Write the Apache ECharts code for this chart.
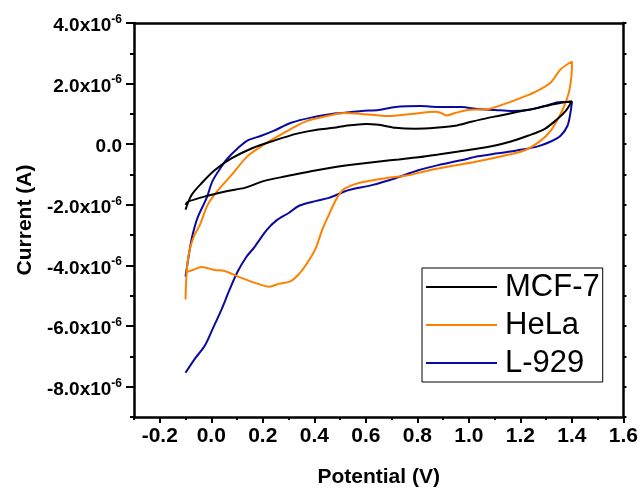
<!DOCTYPE html>
<html>
<head>
<meta charset="utf-8">
<script src="https://cdn.jsdelivr.net/npm/echarts@6/dist/echarts.min.js"></script>
<style>
  html, body { margin: 0; padding: 0; background: #fff; }
  #chart { width: 641px; height: 493px; }
</style>
</head>
<body>
<div id="chart"></div>
<script>
// Cyclic voltammograms: [potential (V), current (µA)] in scan order
const mcf7 = [
  [-0.10, -2.16], [-0.076, -1.67], [-0.037, -1.28], [0.013, -0.86], [0.078, -0.47],
  [0.156, -0.14], [0.244, 0.12], [0.333, 0.35], [0.410, 0.48], [0.476, 0.54],
  [0.522, 0.61], [0.600, 0.67], [0.650, 0.64], [0.715, 0.54], [0.793, 0.51],
  [0.870, 0.54], [0.947, 0.61], [1.009, 0.74], [1.075, 0.87], [1.113, 0.93],
  [1.190, 1.07], [1.268, 1.20], [1.333, 1.33], [1.40, 1.42],
  [1.376, 1.10], [1.345, 0.84], [1.295, 0.51], [1.229, 0.28], [1.163, 0.09],
  [1.102, -0.04], [1.036, -0.14], [0.960, -0.24], [0.881, -0.34], [0.804, -0.43],
  [0.727, -0.50], [0.661, -0.56], [0.561, -0.66], [0.476, -0.76], [0.387, -0.89],
  [0.295, -1.05], [0.206, -1.21], [0.129, -1.44], [0.063, -1.54], [-0.014, -1.70],
  [-0.092, -1.90], [-0.10, -2.00]
];

const hela = [
  [-0.10, -5.12], [-0.095, -4.15], [-0.084, -3.49], [-0.064, -2.97], [-0.045, -2.68],
  [-0.014, -2.00], [0.024, -1.54], [0.078, -1.02], [0.140, -0.40], [0.194, -0.07],
  [0.244, 0.19], [0.310, 0.51], [0.372, 0.77], [0.449, 0.93], [0.515, 1.03],
  [0.584, 1.00], [0.688, 0.93], [0.777, 1.00], [0.870, 1.07], [0.893, 1.03],
  [0.912, 0.95], [0.947, 1.03], [0.997, 1.13], [1.075, 1.16], [1.125, 1.29],
  [1.190, 1.49], [1.256, 1.72], [1.318, 2.04], [1.356, 2.47], [1.40, 2.73],
  [1.40, 2.53], [1.391, 1.81], [1.376, 1.39], [1.356, 1.00], [1.318, 0.45],
  [1.279, 0.12], [1.217, -0.20], [1.140, -0.37], [1.036, -0.56], [0.932, -0.72],
  [0.831, -0.89], [0.766, -1.02], [0.677, -1.12], [0.573, -1.28], [0.522, -1.44],
  [0.507, -1.54], [0.484, -1.83], [0.457, -2.32], [0.430, -2.84], [0.407, -3.40],
  [0.380, -3.82], [0.353, -4.15], [0.322, -4.44], [0.302, -4.54], [0.264, -4.60],
  [0.225, -4.70], [0.179, -4.60], [0.117, -4.41], [0.051, -4.18], [0.013, -4.15],
  [-0.037, -4.05], [-0.072, -4.15], [-0.092, -4.21]
];

const l929 = [
  [-0.10, -4.37], [-0.084, -3.49], [-0.072, -2.97], [-0.053, -2.42], [-0.018, -1.77],
  [0.005, -1.21], [0.040, -0.73], [0.063, -0.47], [0.102, -0.14], [0.140, 0.12],
  [0.194, 0.28], [0.244, 0.45], [0.310, 0.71], [0.399, 0.90], [0.468, 1.00],
  [0.507, 1.03], [0.584, 1.10], [0.650, 1.13], [0.715, 1.23], [0.812, 1.26],
  [0.881, 1.23], [0.970, 1.23], [1.036, 1.16], [1.102, 1.13], [1.163, 1.10],
  [1.229, 1.13], [1.295, 1.26], [1.356, 1.39], [1.40, 1.39],
  [1.395, 1.07], [1.383, 0.61], [1.356, 0.28], [1.318, 0.09], [1.268, -0.07],
  [1.190, -0.20], [1.113, -0.30], [1.036, -0.40], [0.970, -0.53], [0.881, -0.69],
  [0.804, -0.86], [0.715, -1.12], [0.623, -1.35], [0.534, -1.51], [0.457, -1.77],
  [0.407, -1.87], [0.341, -2.03], [0.302, -2.26], [0.252, -2.52], [0.214, -2.84],
  [0.186, -3.17], [0.167, -3.40], [0.136, -3.72], [0.102, -4.21], [0.071, -4.80],
  [0.040, -5.45], [0.005, -6.10], [-0.026, -6.66], [-0.064, -7.08], [-0.10, -7.54]
];

const seriesNames = ['MCF-7', 'HeLa', 'L-929'];
const seriesColors = ['#000000', '#ff8000', '#0a0aa0'];

// Axis ticks
const xMajor = [-0.2, 0, 0.2, 0.4, 0.6, 0.8, 1.0, 1.2, 1.4, 1.6];
const xMinor = [-0.3, -0.1, 0.1, 0.3, 0.5, 0.7, 0.9, 1.1, 1.3, 1.5];
const yMajor = [-8, -6, -4, -2, 0, 2, 4];        // ×10^-6 A
const yMinor = [-9, -7, -5, -3, -1, 1, 3];
const yAll = [-9, -8, -7, -6, -5, -4, -3, -2, -1, 0, 1, 2, 3, 4];

const FONT = '"Liberation Sans", Arial, sans-serif';
const lineStyle = { color: '#000', width: 2.5 };
const tickStyle = { color: '#000', width: 2 };

const chart = echarts.init(document.getElementById('chart'), null, { renderer: 'canvas' });

function yLabel(v) {
  if (Math.abs(v) < 1e-9) return '{b|0.0}';
  return '{b|' + v.toFixed(1) + 'x10}{s|-6}';
}

chart.setOption({
  animation: false,
  backgroundColor: '#fff',
  grid: { left: 134, right: 15, top: 23, bottom: 70, containLabel: false },
  legend: {
    data: seriesNames,
    orient: 'vertical',
    left: 422,
    top: 268,
    padding: [0, 3, 0, 4],
    itemGap: 0,
    itemWidth: 71,
    itemHeight: 2,
    icon: 'rect',
    borderColor: '#000',
    borderWidth: 1,
    backgroundColor: '#fff',
    textStyle: {
      fontFamily: FONT,
      fontSize: 31,
      color: '#000',
      lineHeight: 38,
      padding: [0, 0, 0, 3]
    }
  },
  xAxis: [
    {
      type: 'value', min: -0.3, max: 1.6, position: 'bottom',
      name: 'Potential (V)', nameLocation: 'middle', nameGap: 50,
      nameTextStyle: { fontFamily: FONT, fontWeight: 'bold', fontSize: 21, color: '#000' },
      axisLine: { show: true, onZero: false, lineStyle: lineStyle },
      axisTick: { show: true, length: 6, customValues: xMajor, lineStyle: tickStyle },
      axisLabel: {
        customValues: xMajor, margin: 9,
        fontFamily: FONT, fontWeight: 'bold', fontSize: 21, color: '#000',
        formatter: v => v.toFixed(1)
      },
      splitLine: { show: false }
    },
    {
      type: 'value', min: -0.3, max: 1.6, position: 'bottom', offset: 0,
      axisLine: { show: false, onZero: false },
      axisTick: { show: true, length: 3, customValues: xMinor, lineStyle: tickStyle },
      axisLabel: { show: false },
      splitLine: { show: false }
    },
    {
      type: 'value', min: -0.3, max: 1.6, position: 'top',
      axisLine: { show: true, onZero: false, lineStyle: lineStyle },
      axisTick: { show: false },
      axisLabel: { show: false },
      splitLine: { show: false }
    }
  ],
  yAxis: [
    {
      type: 'value', min: -9, max: 4, position: 'left',
      name: 'Current (A)', nameLocation: 'middle', nameGap: 98,
      nameTextStyle: { fontFamily: FONT, fontWeight: 'bold', fontSize: 21, color: '#000' },
      axisLine: { show: true, onZero: false, lineStyle: lineStyle },
      axisTick: { show: true, length: 8, customValues: yMajor, lineStyle: tickStyle },
      axisLabel: {
        customValues: yMajor, margin: 12,
        padding: [6, 0, 0, 0],
        formatter: yLabel,
        rich: {
          b: { fontFamily: FONT, fontWeight: 'bold', fontSize: 19, color: '#000' },
          s: { fontFamily: FONT, fontWeight: 'bold', fontSize: 12, color: '#000', padding: [0, 0, 13, 0] }
        }
      },
      splitLine: { show: false }
    },
    {
      type: 'value', min: -9, max: 4, position: 'left', offset: 0,
      axisLine: { show: false, onZero: false },
      axisTick: { show: true, length: 4, customValues: yMinor, lineStyle: tickStyle },
      axisLabel: { show: false },
      splitLine: { show: false }
    },
    {
      type: 'value', min: -9, max: 4, position: 'right',
      axisLine: { show: true, onZero: false, lineStyle: lineStyle },
      axisTick: { show: true, length: 3, customValues: yAll, lineStyle: tickStyle },
      axisLabel: { show: false },
      splitLine: { show: false }
    }
  ],
  series: seriesNames.map((name, i) => ({
    name: name,
    type: 'line',
    xAxisIndex: 0,
    yAxisIndex: 0,
    data: [mcf7, hela, l929][i],
    showSymbol: false,
    symbol: 'none',
    smooth: 0.3,
    lineStyle: { color: seriesColors[i], width: 2 },
    itemStyle: { color: seriesColors[i] },
    z: 3 - i
  }))
});
</script>
</body>
</html>
